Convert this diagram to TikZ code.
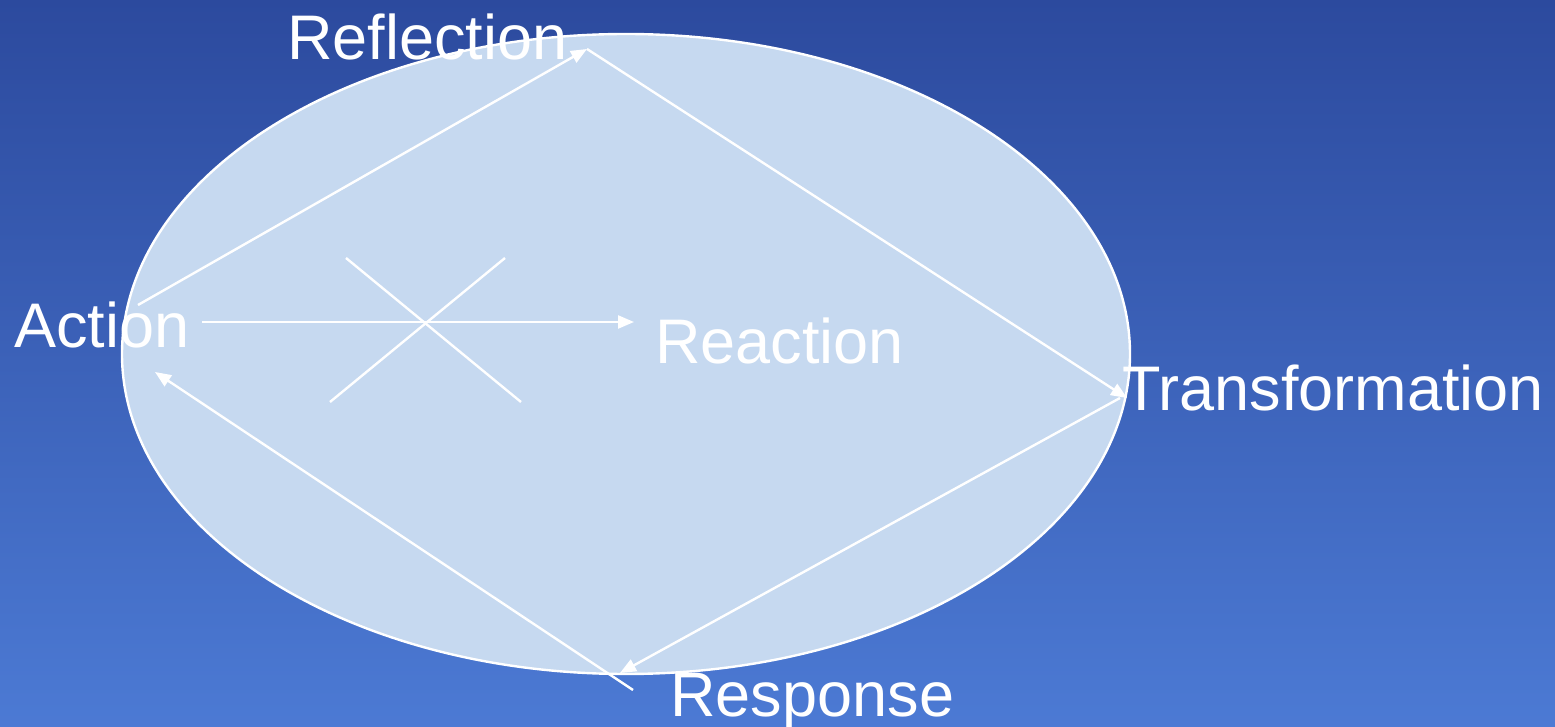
\documentclass[tikz,border=0pt]{standalone}
\usepackage{fontspec}
\setmainfont{Liberation Sans}
\usetikzlibrary{shapes.geometric,arrows.meta}
\definecolor{bgtop}{RGB}{44,74,158}
\definecolor{bgbot}{RGB}{76,122,212}
\definecolor{ovalfill}{RGB}{198,217,240}
\tikzset{
  lbl/.style={text=white, anchor=base west, inner sep=0pt,
              font=\fontsize{31.5}{36}\selectfont},
  cycarr/.style={draw=white, line width=1.2pt, -{Triangle[length=8pt, width=6.5pt]}},
  crossln/.style={draw=white, line width=1.2pt},
}
\begin{document}
\begin{tikzpicture}[x=0.5pt, y=-0.5pt]
    \useasboundingbox (0,0) rectangle (1555,727);
    \begin{scope}
    \clip (0,0) rectangle (1555,727);
    \shade[top color=bgtop, bottom color=bgbot] (0,0) rectangle (1555,727);
    \node[ellipse, draw=white, line width=1.2pt, fill=ovalfill,
          minimum width=1008pt*0.5, minimum height=640pt*0.5] (cyc) at (626,354) {};
    % labels
    \node[lbl] (refl) at (287,60) {Reflection};
    \node[lbl] (act)  at (14,348) {Action};
    \node[lbl] (react) at (655,364) {Reaction};
    \node[lbl] (trans) at (1122,411) {Transformation};
    \node[lbl] (resp) at (670,716) {Response};
    % corner points of the loop
    \coordinate (pA) at (138,305);
    \coordinate (pR) at (587,49);
    \coordinate (pT) at (1127,398);
    \coordinate (pT2) at (1120,398);
    \coordinate (pS) at (620,673);
    \coordinate (pS2) at (633,690);
    \coordinate (pA2) at (155,372);
    \coordinate (rA) at (202,322);
    \coordinate (rB) at (634,322);
    \draw[cycarr] (pA) -- (pR);
    \draw[cycarr] (pR) -- (pT);
    \draw[cycarr] (pT2) -- (pS);
    \draw[cycarr] (pS2) -- (pA2);
    \draw[cycarr] (rA) -- (rB);
    % crossed out
    \coordinate (x1) at (346,258);
    \coordinate (x2) at (521,402);
    \coordinate (x3) at (505,258);
    \coordinate (x4) at (330,402);
    \draw[crossln] (x1) -- (x2);
    \draw[crossln] (x3) -- (x4);
    \end{scope}
  \end{tikzpicture}
\end{document}
